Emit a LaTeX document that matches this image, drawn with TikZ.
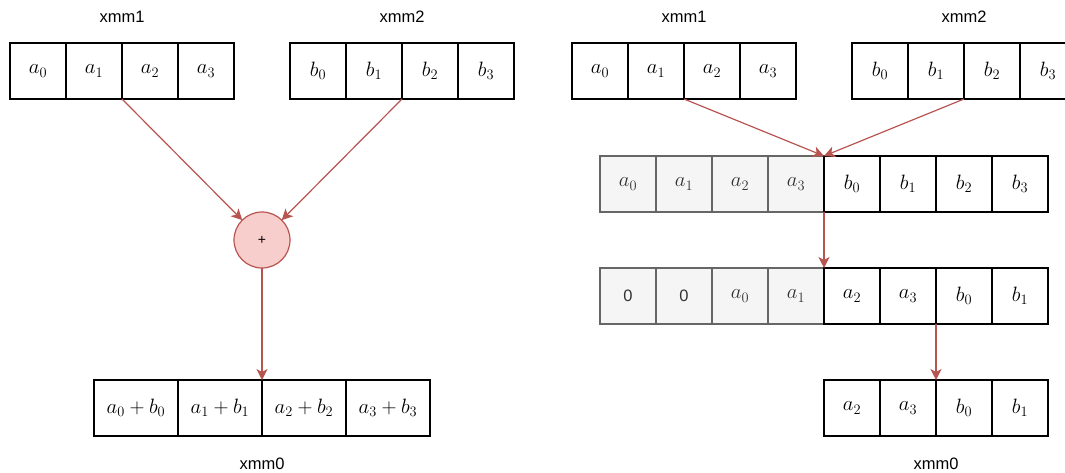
\documentclass[tikz,border=0pt]{standalone}
\usepackage{fontspec}
\setmainfont{Liberation Sans}
\usetikzlibrary{arrows.meta}
\definecolor{arrowred}{HTML}{B85450}
\definecolor{plusfill}{HTML}{F8CECC}
\definecolor{grayfill}{HTML}{F5F5F5}
\definecolor{graystroke}{HTML}{666666}
\definecolor{graytext}{HTML}{333333}
\tikzset{
  cell/.style={draw=black, line width=1.2pt, minimum width=56pt, minimum height=56pt,
    inner sep=0pt, outer sep=0pt, font=\fontsize{21}{25}\selectfont},
  widecell/.style={cell, minimum width=84pt},
  graycell/.style={cell, fill=grayfill, draw=graystroke, text=graytext},
  lbl/.style={font=\fontsize{16.5}{20}\selectfont, inner sep=0pt},
  arr/.style={draw=arrowred, line width=1.2pt, -{Stealth[length=11pt,width=11pt,inset=3pt]}},
  plusnode/.style={circle, draw=arrowred, fill=plusfill, line width=1.2pt, minimum size=56pt,
    inner sep=0pt, outer sep=0pt, font=\fontsize{14}{16}\selectfont}
}
\begin{document}
\begin{tikzpicture}[x=1pt,y=-1pt]
\useasboundingbox (0,0) rectangle (1065,473);
\clip (0,0) rectangle (1065,473);
% ---------------- left ----------------
\node[lbl] (lx1) at (122,17) {xmm1};
\node[lbl] (lx2) at (402,17) {xmm2};
\node[lbl] (lx0) at (262,464) {xmm0};
\foreach \i/\x in {0/38,1/94,2/150,3/206}
  \node[cell] (LA\i) at (\x,71) {$a_\i$};
\foreach \i/\x in {0/318,1/374,2/430,3/486}
  \node[cell] (LB\i) at (\x,71) {$b_\i$};
\node[plusnode] (plus) at (262,240) {+};
\foreach \i/\x in {0/136,1/220,2/304,3/388}
  \node[widecell] (LS\i) at (\x,408) {$a_\i+b_\i$};
\draw[arr] (LA1.south east) -- (plus);
\draw[arr] (LB1.south east) -- (plus);
\draw[arr] (plus) -- (LS1.north east);
% ---------------- right ----------------
\node[lbl] (rx1) at (684,17) {xmm1};
\node[lbl] (rx2) at (964,17) {xmm2};
\node[lbl] (rx0) at (936,464) {xmm0};
\foreach \i/\x in {0/600,1/656,2/712,3/768}
  \node[cell] (RA\i) at (\x,71) {$a_\i$};
\foreach \i/\x in {0/880,1/936,2/992,3/1048}
  \node[cell] (RB\i) at (\x,71) {$b_\i$};
% concatenated row
\foreach \i/\x in {0/628,1/684,2/740,3/796}
  \node[graycell] (MA\i) at (\x,184) {$a_\i$};
\foreach \i/\x in {0/852,1/908,2/964,3/1020}
  \node[cell] (MB\i) at (\x,184) {$b_\i$};
% shifted row
\node[graycell] (N0) at (628,296) {\fontsize{16.5}{20}\selectfont 0};
\node[graycell] (N1) at (684,296) {\fontsize{16.5}{20}\selectfont 0};
\node[graycell] (N2) at (740,296) {$a_0$};
\node[graycell] (N3) at (796,296) {$a_1$};
\node[cell] (N4) at (852,296) {$a_2$};
\node[cell] (N5) at (908,296) {$a_3$};
\node[cell] (N6) at (964,296) {$b_0$};
\node[cell] (N7) at (1020,296) {$b_1$};
% result
\node[cell] (RS0) at (852,408) {$a_2$};
\node[cell] (RS1) at (908,408) {$a_3$};
\node[cell] (RS2) at (964,408) {$b_0$};
\node[cell] (RS3) at (1020,408) {$b_1$};
\draw[arr] (RA1.south east) -- (MA3.north east);
\draw[arr] (RB1.south east) -- (MA3.north east);
\draw[arr] (MA3.south east) -- (N3.north east);
\draw[arr] (N5.south east) -- (RS1.north east);
\end{tikzpicture}
\end{document}
